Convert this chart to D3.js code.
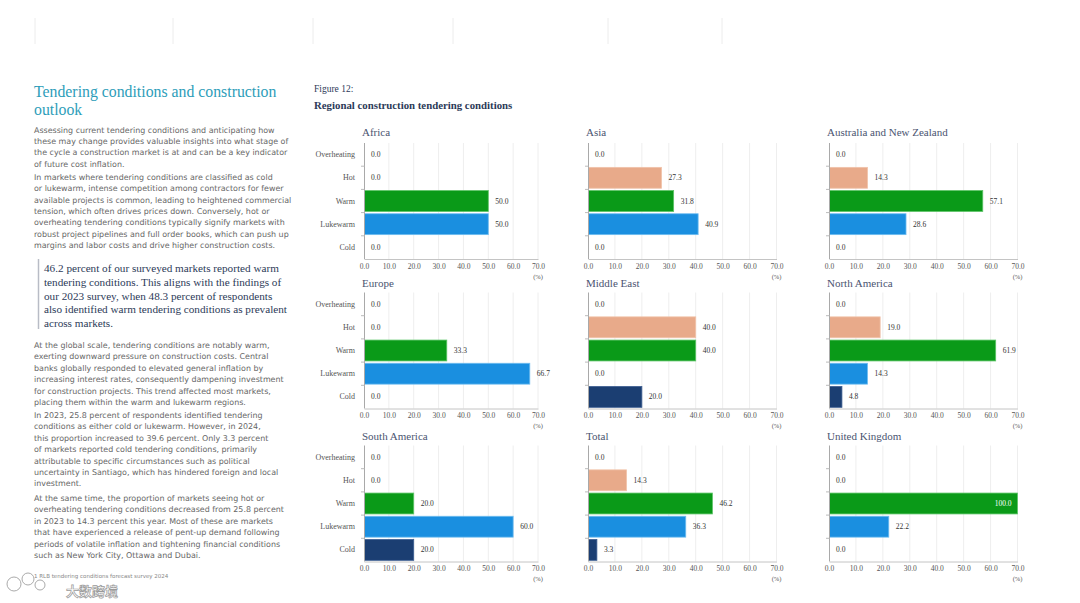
<!DOCTYPE html>
<html lang="en">
<head>
<meta charset="UTF-8">
<title>Regional construction tendering conditions</title>
<style>
  html, body { margin: 0; padding: 0; background: #fff; }
  svg { display: block; }
</style>
</head>
<body>
<div id="page"></div>
<script src="https://cdn.jsdelivr.net/npm/d3@7"></script>
<script>
// categories and values per region
const categories = ["Overheating", "Hot", "Warm", "Lukewarm", "Cold"];
const regions = ["Africa", "Asia", "Australia and New Zealand", "Europe", "Middle East",
                 "North America", "South America", "Total", "United Kingdom"];
const africa        = [0, 0, 50.0, 50.0, 0];
const asia          = [0, 27.3, 31.8, 40.9, 0];
const anz           = [0, 14.3, 57.1, 28.6, 0];
const europe        = [0, 0, 33.3, 66.7, 0];
const middleEast    = [0, 40.0, 40.0, 0, 20.0];
const northAmerica  = [0, 19.0, 61.9, 14.3, 4.8];
const southAmerica  = [0, 0, 20.0, 60.0, 20.0];
const total         = [0, 14.3, 46.2, 36.3, 3.3];
const unitedKingdom = [0, 0, 100.0, 22.2, 0];
const regionValues = [africa, asia, anz, europe, middleEast, northAmerica, southAmerica, total, unitedKingdom];
const xTicks = [0, 10, 20, 30, 40, 50, 60, 70];

const para1 = ["Assessing current tendering conditions and anticipating how",
  "these may change provides valuable insights into what stage of",
  "the cycle a construction market is at and can be a key indicator",
  "of future cost inflation."];
const para2 = ["In markets where tendering conditions are classified as cold",
  "or lukewarm, intense competition among contractors for fewer",
  "available projects is common, leading to heightened commercial",
  "tension, which often drives prices down. Conversely, hot or",
  "overheating tendering conditions typically signify markets with",
  "robust project pipelines and full order books, which can push up",
  "margins and labor costs and drive higher construction costs."];
const quote = ["46.2 percent of our surveyed markets reported warm",
  "tendering conditions. This aligns with the findings of",
  "our 2023 survey, when 48.3 percent of respondents",
  "also identified warm tendering conditions as prevalent",
  "across markets."];
const para3 = ["At the global scale, tendering conditions are notably warm,",
  "exerting downward pressure on construction costs. Central",
  "banks globally responded to elevated general inflation by",
  "increasing interest rates, consequently dampening investment",
  "for construction projects. This trend affected most markets,",
  "placing them within the warm and lukewarm regions."];
const para4 = ["In 2023, 25.8 percent of respondents identified tendering",
  "conditions as either cold or lukewarm. However, in 2024,",
  "this proportion increased to 39.6 percent. Only 3.3 percent",
  "of markets reported cold tendering conditions, primarily",
  "attributable to specific circumstances such as political",
  "uncertainty in Santiago, which has hindered foreign and local",
  "investment."];
const para5 = ["At the same time, the proportion of markets seeing hot or",
  "overheating tendering conditions decreased from 25.8 percent",
  "in 2023 to 14.3 percent this year. Most of these are markets",
  "that have experienced a release of pent-up demand following",
  "periods of volatile inflation and tightening financial conditions",
  "such as New York City, Ottawa and Dubai."];

const colors = {Overheating: "#c0392b", Hot: "#e8aa8a", Warm: "#0a9a18", Lukewarm: "#1a8fe0", Cold: "#1b3e72"};
const strokes = {Overheating: "#d9675b", Hot: "#f0c2aa", Warm: "#5cc466", Lukewarm: "#6fbdf0", Cold: "#3d5f92"};

const W = 1080, H = 603;
const svg = d3.select("#page").append("svg").attr("width", W).attr("height", H);
const serif = "'Liberation Serif', 'DejaVu Serif', serif";
const sans = "'DejaVu Sans', Verdana, sans-serif";

// faint header dividers
[35, 173, 313, 453, 608, 722].forEach(x => {
  svg.append("line").attr("x1", x).attr("x2", x).attr("y1", 18).attr("y2", 44)
    .attr("stroke", "#ececec").attr("stroke-width", 1);
});

// ---------- left text column ----------
svg.append("text").attr("x", 34).attr("y", 97).attr("font-family", serif)
  .attr("font-size", 15.8).attr("fill", "#2d9db9").text("Tendering conditions and construction");
svg.append("text").attr("x", 34).attr("y", 115).attr("font-family", serif)
  .attr("font-size", 15.8).attr("fill", "#2d9db9").text("outlook");

function block(lines, x, y, lh, font, size, fill) {
  const t = svg.append("text").attr("font-family", font).attr("font-size", size).attr("fill", fill);
  lines.forEach((l, i) => t.append("tspan").attr("x", x).attr("y", y + i * lh).text(l));
}
const bodySize = 7.95;
block(para1, 34, 133, 11.2, sans, bodySize, "#666");
block(para2, 34, 180, 11.3, sans, bodySize, "#666");
svg.append("line").attr("x1", 38.5).attr("x2", 38.5).attr("y1", 259).attr("y2", 329)
  .attr("stroke", "#b8bcc6").attr("stroke-width", 1.5);
block(quote, 44, 272, 13.8, serif, 11.2, "#2c3a58");
block(para3, 34, 348, 11.4, sans, bodySize, "#666");
block(para4, 34, 418, 11.4, sans, bodySize, "#666");
block(para5, 34, 501, 11.4, sans, bodySize, "#666");
svg.append("text").attr("x", 34).attr("y", 578).attr("font-family", sans).attr("font-size", 5.5)
  .attr("fill", "#888").text("1   RLB tendering conditions forecast survey 2024");
// watermark
svg.append("text").attr("x", 66).attr("y", 596).attr("font-family", "'Noto Sans CJK SC', sans-serif")
  .attr("font-size", 13).attr("font-weight", "bold").attr("fill", "#fff").attr("fill-opacity", 0.85)
  .attr("stroke", "#9a9a9a").attr("stroke-width", 0.7).text("大数跨境");
[[14, 584, 7], [28, 579, 6], [40, 585, 5]].forEach(c => {
  svg.append("circle").attr("cx", c[0]).attr("cy", c[1]).attr("r", c[2])
    .attr("fill", "none").attr("stroke", "#aaa").attr("stroke-width", 1);
});

// ---------- figure header ----------
svg.append("text").attr("x", 314).attr("y", 92).attr("font-family", serif)
  .attr("font-size", 9.5).attr("fill", "#2c3a58").text("Figure 12:");
svg.append("text").attr("x", 314).attr("y", 109).attr("font-family", serif)
  .attr("font-size", 10.8).attr("font-weight", "bold").attr("fill", "#2c3a58")
  .text("Regional construction tendering conditions");

// ---------- small multiples ----------
const colX = [364, 588, 829];
const colW = [174, 188.5, 188.5];
const rowTop = [143, 292.5, 445.5];
const plotH = 116;

regions.forEach((name, i) => {
  const col = i % 3, row = Math.floor(i / 3);
  const vals = regionValues[i];
  const g = svg.append("g").attr("transform", `translate(${colX[col]},${rowTop[row]})`);
  const x = d3.scaleLinear().domain([0, 70]).range([0, colW[col]]);
  const y = d3.scaleBand().domain(categories).range([0, plotH]).paddingInner(0.1).paddingOuter(0.05);

  g.append("text").attr("x", -2).attr("y", row === 0 ? -7 : -6).attr("font-family", serif)
    .attr("font-size", 11).attr("fill", "#4a5470").text(name);

  // gridlines
  g.selectAll(".grid").data(xTicks.slice(1)).enter().append("line")
    .attr("x1", d => x(d)).attr("x2", d => x(d)).attr("y1", 0).attr("y2", plotH)
    .attr("stroke", "#eeeeee").attr("stroke-width", 1);

  // bars
  const data = categories.map((c, k) => ({c: c, v: vals[k]}));
  g.selectAll(".bar").data(data.filter(d => d.v > 0)).enter().append("rect")
    .attr("x", 0.5).attr("y", d => y(d.c))
    .attr("width", d => x(Math.min(d.v, 70)) - 0.5).attr("height", y.bandwidth())
    .attr("fill", d => colors[d.c]).attr("stroke", d => strokes[d.c]).attr("stroke-width", 0.8);

  // value labels
  g.selectAll(".val").data(data).enter().append("text")
    .attr("x", d => d.v > 70 ? x(70) - 6 : x(d.v) + 7)
    .attr("y", d => y(d.c) + y.bandwidth() / 2 + 2.5)
    .attr("text-anchor", d => d.v > 70 ? "end" : "start")
    .attr("font-family", serif).attr("font-size", 7.5)
    .attr("fill", d => d.v > 70 ? "#fff" : "#333")
    .text(d => d.v.toFixed(1));

  // axes
  const yAxis = g.append("g").call(d3.axisLeft(y).tickSize(0).tickFormat(col === 0 ? d => d : ""));
  yAxis.select(".domain").attr("stroke", "#a9a9a9").attr("d", `M0.5,0V${plotH}`);
  yAxis.selectAll("text").attr("font-family", serif).attr("font-size", 8).attr("fill", "#555").attr("dx", -6);
  // small ticks between bands
  g.selectAll(".btick").data(categories.slice(1)).enter().append("line")
    .attr("x1", -3).attr("x2", 0.5)
    .attr("y1", d => y(d) - y.step() * 0.05).attr("y2", d => y(d) - y.step() * 0.05)
    .attr("stroke", "#bbb");

  const xAxis = g.append("g").attr("transform", `translate(0,${plotH})`)
    .call(d3.axisBottom(x).tickValues(xTicks).tickSize(0).tickFormat(d3.format(".1f")));
  xAxis.select(".domain").attr("stroke", "#c4c4c4");
  xAxis.selectAll("text").attr("font-family", serif).attr("font-size", 7.5).attr("fill", "#555").attr("dy", "0.9em");
  g.append("text").attr("x", x(70)).attr("y", plotH + 19.5).attr("text-anchor", "middle")
    .attr("font-family", serif).attr("font-size", 6.5).attr("fill", "#555").text("(%)");
});
</script>
</body>
</html>
